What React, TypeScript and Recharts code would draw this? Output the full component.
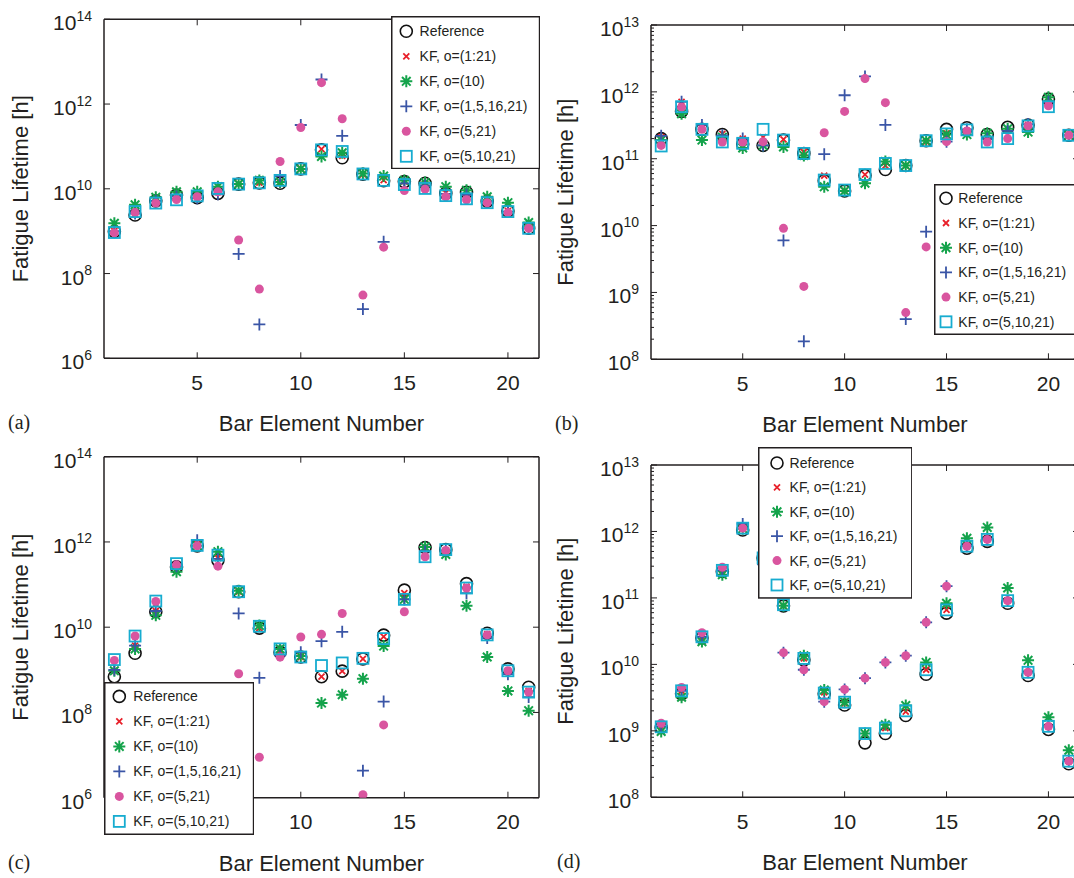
import React from "react";
import { Legend, Scatter, ScatterChart, XAxis, YAxis } from "recharts";

// bar element numbers shared by all four panels
const ELEMENTS = [1, 2, 3, 4, 5, 6, 7, 8, 9, 10, 11, 12, 13, 14, 15, 16, 17, 18, 19, 20, 21];
const SERIES_NAMES = [
  "Reference",
  "KF, o=(1:21)",
  "KF, o=(10)",
  "KF, o=(1,5,16,21)",
  "KF, o=(5,21)",
  "KF, o=(5,10,21)",
];
const X_TICKS = [5, 10, 15, 20];
const WIDE_TICKS = [1e6, 1e8, 1e10, 1e12, 1e14];
const NARROW_TICKS = [1e8, 1e9, 1e10, 1e11, 1e12, 1e13];
const MINOR_STEPS = [2, 3, 4, 5, 6, 7, 8, 9];

// (a)
const A_REFERENCE = [9.8e8, 2.4e9, 5.2e9, 7.1e9, 6.2e9, 7.8e9, 1.29e10, 1.38e10, 1.35e10, 2.95e10, 8.3e10, 5.4e10, 2.2e10, 1.55e10, 1.48e10, 1.35e10, 7.8e9, 8.3e9, 5.1e9, 3.0e9, 1.17e9];
const A_KF_ALL = [1.0e9, 2.5e9, 5.3e9, 7.2e9, 6.4e9, 8.5e9, 1.3e10, 1.4e10, 1.4e10, 3.0e10, 8.6e10, 6.0e10, 2.2e10, 1.6e10, 1.5e10, 1.3e10, 8.0e9, 8.0e9, 5.0e9, 3.0e9, 1.2e9];
const A_KF_10 = [1.53e9, 4.2e9, 6.3e9, 8.5e9, 8.5e9, 1.12e10, 1.3e10, 1.58e10, 1.45e10, 2.95e10, 5.8e10, 7.1e10, 2.3e10, 2.0e10, 1.58e10, 1.41e10, 1.12e10, 9.3e9, 6.5e9, 4.7e9, 1.6e9];
const A_KF_1_5_16_21 = [1.0e9, 2.6e9, 5.2e9, 6.6e9, 6.0e9, 7.4e9, 2.9e8, 6.3e6, 2.0e10, 3.2e11, 3.8e12, 1.78e11, 1.45e7, 5.6e8, 1.35e10, 1.2e10, 7.6e9, 7.2e9, 5.0e9, 2.9e9, 1.17e9];
const A_KF_5_21 = [9.1e8, 2.75e9, 4.6e9, 5.6e9, 6.5e9, 8.5e9, 6.2e8, 4.3e7, 4.4e10, 2.8e11, 3.2e12, 4.5e11, 3.1e7, 4.2e8, 9.1e9, 9.8e9, 6.5e9, 5.5e9, 4.7e9, 2.75e9, 1.17e9];
const A_KF_5_10_21 = [9.3e8, 2.9e9, 4.6e9, 5.5e9, 6.8e9, 1.02e10, 1.29e10, 1.38e10, 1.58e10, 2.95e10, 8.3e10, 7.6e10, 2.24e10, 1.58e10, 1.26e10, 1.02e10, 6.9e9, 5.8e9, 4.7e9, 2.9e9, 1.17e9];

// (b)
const B_REFERENCE = [2.0e11, 5.1e11, 2.75e11, 2.3e11, 1.66e11, 1.58e11, 1.9e11, 1.2e11, 4.7e10, 3.3e10, 5.6e10, 6.9e10, 7.9e10, 1.86e11, 2.75e11, 2.9e11, 2.3e11, 2.95e11, 3.2e11, 7.8e11, 2.24e11];
const B_KF_ALL = [2.1e11, 7.1e11, 2.9e11, 2.35e11, 2.0e11, 2.1e11, 1.95e11, 1.26e11, 5.6e10, 3.3e10, 5.8e10, 7.9e10, 7.9e10, 1.8e11, 2.4e11, 2.6e11, 2.0e11, 2.6e11, 3.2e11, 7.1e11, 2.24e11];
const B_KF_10 = [1.9e11, 4.7e11, 1.9e11, 2.1e11, 1.45e11, 1.58e11, 1.5e11, 1.12e11, 3.8e10, 3.3e10, 4.3e10, 9.1e10, 7.9e10, 1.86e11, 2.3e11, 2.3e11, 2.4e11, 2.8e11, 2.5e11, 8.3e11, 2.24e11];
const B_KF_1_5_16_21 = [2.2e11, 7.1e11, 3.2e11, 2.24e11, 2.0e11, 1.58e11, 6.0e9, 1.86e8, 1.17e11, 8.9e11, 1.7e12, 3.2e11, 4.0e8, 8.1e9, 1.8e11, 2.75e11, 2.0e11, 2.6e11, 3.3e11, 7.1e11, 2.24e11];
const B_KF_5_21 = [1.58e11, 5.9e11, 2.75e11, 1.78e11, 1.78e11, 1.8e11, 9.1e9, 1.23e9, 2.45e11, 5.1e11, 1.58e12, 6.9e11, 5.0e8, 4.8e9, 1.8e11, 2.6e11, 1.78e11, 2.0e11, 3.1e11, 6.2e11, 2.24e11];
const B_KF_5_10_21 = [1.55e11, 6.0e11, 2.75e11, 1.78e11, 1.7e11, 2.75e11, 1.9e11, 1.2e11, 4.8e10, 3.4e10, 5.8e10, 8.5e10, 7.9e10, 1.86e11, 2.35e11, 2.7e11, 1.78e11, 2.0e11, 3.1e11, 6.0e11, 2.24e11];

// (c)
const C_REFERENCE = [6.9e8, 2.45e9, 2.3e10, 2.6e11, 8.1e11, 3.7e11, 6.8e10, 9.5e9, 2.6e9, 2.0e9, 6.9e8, 9.3e8, 1.8e9, 6.5e9, 7.4e10, 7.4e11, 6.6e11, 1.05e11, 7.2e9, 1.05e9, 3.9e8];
const C_KF_ALL = [9.5e8, 3.7e9, 2.4e10, 2.6e11, 8.9e11, 4.2e11, 6.8e10, 9.5e9, 2.8e9, 2.0e9, 6.9e8, 9.3e8, 1.8e9, 6.0e9, 6.3e10, 7.1e11, 6.3e11, 8.9e10, 6.9e9, 9.5e8, 3.2e8];
const C_KF_10 = [9.5e8, 3.1e9, 1.9e10, 2.0e11, 8.1e11, 5.9e11, 7.2e10, 1.1e10, 3.1e9, 2.1e9, 1.66e8, 2.6e8, 6.2e8, 3.6e9, 4.5e10, 7.6e11, 5.1e11, 3.2e10, 2.0e9, 3.2e8, 1.1e8];
const C_KF_1_5_16_21 = [1.0e9, 3.7e9, 2.4e10, 2.7e11, 1.1e12, 4.0e11, 2.1e10, 6.5e8, 2.2e9, 2.6e9, 4.7e9, 7.8e9, 4.3e6, 1.8e8, 4.5e10, 6.0e11, 6.3e11, 6.3e10, 5.6e9, 7.9e8, 2.3e8];
const C_KF_5_21 = [1.66e9, 6.2e9, 4.0e10, 2.9e11, 8.1e11, 2.7e11, 8.1e8, 8.9e6, 2.0e9, 5.9e9, 6.8e9, 2.1e10, 1.17e6, 5.1e7, 2.3e10, 4.5e11, 6.3e11, 8.3e10, 6.6e9, 9.5e8, 3.0e8];
const C_KF_5_10_21 = [1.74e9, 6.2e9, 4.1e10, 3.1e11, 8.3e11, 4.9e11, 6.8e10, 1.05e10, 3.1e9, 2.0e9, 1.26e9, 1.45e9, 1.86e9, 5.4e9, 4.5e10, 4.5e11, 6.6e11, 8.3e10, 6.6e9, 9.5e8, 3.0e8];

// (d)
const D_REFERENCE = [1.12e9, 3.6e9, 2.5e10, 2.5e11, 1.05e12, 4.0e11, 7.6e10, 1.17e10, 3.6e9, 2.45e9, 6.6e8, 9.1e8, 1.7e9, 7.1e9, 5.9e10, 5.6e11, 7.1e11, 8.3e10, 6.8e9, 1.05e9, 3.2e8];
const D_KF_ALL = [1.17e9, 4.0e9, 2.6e10, 2.6e11, 1.1e12, 4.0e11, 7.6e10, 1.23e10, 3.8e9, 2.6e9, 9.1e8, 1.1e9, 1.95e9, 8.3e9, 6.6e10, 6.0e11, 7.6e11, 9.1e10, 7.6e9, 1.17e9, 3.5e8];
const D_KF_10 = [9.8e8, 3.2e9, 2.2e10, 2.24e11, 1.1e12, 4.0e11, 7.6e10, 1.35e10, 4.1e9, 2.7e9, 9.1e8, 1.23e9, 2.4e9, 1.07e10, 8.3e10, 7.9e11, 1.15e12, 1.41e11, 1.15e10, 1.6e9, 5.1e8];
const D_KF_1_5_16_21 = [1.17e9, 4.0e9, 2.6e10, 2.6e11, 1.3e12, 3.2e11, 1.5e10, 8.3e9, 2.75e9, 4.2e9, 6.2e9, 1.07e10, 1.35e10, 4.3e10, 1.5e11, 6.0e11, 7.6e11, 9.1e10, 7.6e9, 1.17e9, 3.5e8];
const D_KF_5_21 = [1.3e9, 4.5e9, 3.0e10, 2.9e11, 1.12e12, 3.2e11, 1.5e10, 8.3e9, 2.75e9, 4.2e9, 6.2e9, 1.07e10, 1.35e10, 4.3e10, 1.5e11, 6.0e11, 7.6e11, 9.1e10, 7.6e9, 1.17e9, 3.5e8];
const D_KF_5_10_21 = [1.15e9, 4.0e9, 2.6e10, 2.6e11, 1.12e12, 4.0e11, 7.9e10, 1.23e10, 3.7e9, 2.7e9, 9.1e8, 1.1e9, 2.0e9, 8.3e9, 6.6e10, 6.0e11, 7.6e11, 9.1e10, 7.6e9, 1.17e9, 3.5e8];

const INK = "#231f20";
const SANS = '"Liberation Sans", Arial, Helvetica, sans-serif';
const SERIF = '"Liberation Serif", "Times New Roman", serif';
const W = 545;
const H = 440;

type MarkKind = "circle" | "cross" | "star" | "plus" | "dot" | "square";
const KINDS: MarkKind[] = ["circle", "cross", "star", "plus", "dot", "square"];
const COLORS: Record<MarkKind, string> = {
  circle: "#111111",
  cross: "#e8202a",
  star: "#14a34b",
  plus: "#3a55a6",
  dot: "#d9559f",
  square: "#17acd0",
};

function Mark({ kind, cx, cy }: { kind: MarkKind; cx: number; cy: number }) {
  const c = COLORS[kind];
  switch (kind) {
    case "circle":
      return <circle cx={cx} cy={cy} r={6} fill="none" stroke={c} strokeWidth={1.6} />;
    case "cross":
      return (
        <path
          d={`M${cx - 3},${cy - 3}L${cx + 3},${cy + 3}M${cx - 3},${cy + 3}L${cx + 3},${cy - 3}`}
          stroke={c}
          strokeWidth={1.8}
        />
      );
    case "star":
      return (
        <path
          d={`M${cx - 6},${cy}L${cx + 6},${cy}M${cx},${cy - 6}L${cx},${cy + 6}M${cx - 4.3},${cy - 4.3}L${cx + 4.3},${cy + 4.3}M${cx - 4.3},${cy + 4.3}L${cx + 4.3},${cy - 4.3}`}
          stroke={c}
          strokeWidth={2}
        />
      );
    case "plus":
      return (
        <path
          d={`M${cx - 6},${cy}L${cx + 6},${cy}M${cx},${cy - 6}L${cx},${cy + 6}`}
          stroke={c}
          strokeWidth={1.8}
        />
      );
    case "dot":
      return <circle cx={cx} cy={cy} r={4.5} fill={c} />;
    default:
      return (
        <rect x={cx - 5.5} y={cy - 5.5} width={11} height={11} fill="none" stroke={c} strokeWidth={1.8} />
      );
  }
}

type LegendSpec = { x: number; y: number; w: number; h: number; mark: number; text: number; row0: number; gap: number };

type PanelSpec = {
  id: string;
  left: number;
  top: number;
  plot: [number, number, number, number];
  yMajor: number[];
  minor: boolean;
  series: number[][];
  legend: LegendSpec;
  labelX: number;
  yTitleX: number;
  // x tick labels that sit under the legend box in the original
  coveredXLabels?: number[];
};

function LegendBox({ lg }: { lg: LegendSpec }) {
  return (
    <svg width={lg.w} height={lg.h} style={{ display: "block" }}>
      <rect x={0.75} y={0.75} width={lg.w - 1.5} height={lg.h - 1.5} fill="#fff" stroke={INK} strokeWidth={1.5} />
      {SERIES_NAMES.map((name, i) => {
        const cy = lg.row0 + i * lg.gap;
        return (
          <g key={name}>
            <Mark kind={KINDS[i]} cx={lg.mark} cy={cy} />
            <text x={lg.text} y={cy} dominantBaseline="central" fontSize={14} fontFamily={SANS} fill={INK}>
              {name}
            </text>
          </g>
        );
      })}
    </svg>
  );
}

function Panel({ spec }: { spec: PanelSpec }) {
  const [x0, y0, x1, y1] = spec.plot;
  const minors = spec.minor
    ? spec.yMajor.slice(0, -1).flatMap(d => MINOR_STEPS.map(k => k * d))
    : [];
  const ticks = [...spec.yMajor, ...minors].sort((a, b) => a - b);
  const domain = [spec.yMajor[0], spec.yMajor[spec.yMajor.length - 1]];
  const isMajor = (v: number) => spec.yMajor.some(m => Math.abs(m - v) / m < 1e-6);
  const covered = spec.coveredXLabels ?? [];

  const bottomTick = (p: any) => (
    <g>
      <line x1={p.x} x2={p.x} y1={p.y} y2={p.y - 6} stroke={INK} strokeWidth={1} />
      {!covered.includes(p.payload.value) && (
        <text x={p.x} y={p.y + 31.5} textAnchor="middle" fontSize={21} fontFamily={SANS} fill={INK}>
          {p.payload.value}
        </text>
      )}
    </g>
  );
  const topTick = (p: any) => (
    <line x1={p.x} x2={p.x} y1={p.y} y2={p.y + 6} stroke={INK} strokeWidth={1} />
  );
  const leftTick = (p: any) => {
    const v = p.payload.value;
    if (!isMajor(v)) {
      return <line x1={p.x} x2={p.x + 3} y1={p.y} y2={p.y} stroke={INK} strokeWidth={1} />;
    }
    return (
      <g>
        <line x1={p.x} x2={p.x + 6} y1={p.y} y2={p.y} stroke={INK} strokeWidth={1} />
        <text x={p.x - 12} y={p.y + 11} textAnchor="end" fontSize={21} fontFamily={SANS} fill={INK}>
          10
          <tspan dy={-9.5} fontSize={14}>
            {Math.round(Math.log10(v))}
          </tspan>
        </text>
      </g>
    );
  };
  const rightTick = (p: any) => {
    const len = isMajor(p.payload.value) ? 6 : 3;
    return <line x1={p.x} x2={p.x - len} y1={p.y} y2={p.y} stroke={INK} strokeWidth={1} />;
  };

  const axisLine = { stroke: INK, strokeWidth: 1.5 };
  const lg = spec.legend;
  const midX = (x0 + x1) / 2;
  const midY = (y0 + y1) / 2;

  // axes take 1px each; margins place the plot area exactly on [x0,x1]x[y0,y1]
  return (
    <div style={{ position: "absolute", left: spec.left, top: spec.top, width: W, height: H }}>
      <ScatterChart
        width={W}
        height={H}
        margin={{ top: y0 - 1, left: x0 - 1, right: W - x1 - 1, bottom: H - y1 - 1 }}
      >
        <XAxis
          xAxisId="bottom"
          orientation="bottom"
          dataKey="x"
          type="number"
          domain={[0.5, 21.5]}
          ticks={X_TICKS}
          interval={0}
          allowDataOverflow
          height={1}
          tickSize={0}
          tickMargin={0}
          tickLine={false}
          axisLine={axisLine}
          tick={bottomTick}
        />
        <XAxis
          xAxisId="top"
          orientation="top"
          dataKey="x"
          type="number"
          domain={[0.5, 21.5]}
          ticks={X_TICKS}
          interval={0}
          allowDataOverflow
          height={1}
          tickSize={0}
          tickMargin={0}
          tickLine={false}
          axisLine={axisLine}
          tick={topTick}
        />
        <YAxis
          yAxisId="left"
          orientation="left"
          dataKey="y"
          type="number"
          scale="log"
          domain={domain}
          ticks={ticks}
          interval={0}
          allowDataOverflow
          width={1}
          tickSize={0}
          tickMargin={0}
          tickLine={false}
          axisLine={axisLine}
          tick={leftTick}
        />
        <YAxis
          yAxisId="right"
          orientation="right"
          dataKey="y"
          type="number"
          scale="log"
          domain={domain}
          ticks={ticks}
          interval={0}
          allowDataOverflow
          width={1}
          tickSize={0}
          tickMargin={0}
          tickLine={false}
          axisLine={axisLine}
          tick={rightTick}
        />
        {spec.series.map((values, i) => (
          <Scatter
            key={SERIES_NAMES[i]}
            name={SERIES_NAMES[i]}
            xAxisId="bottom"
            yAxisId="left"
            data={ELEMENTS.map((x, j) => ({ x, y: values[j] }))}
            shape={(p: any) => <Mark kind={KINDS[i]} cx={p.cx} cy={p.cy} />}
            isAnimationActive={false}
          />
        ))}
        {spec.series.map((values, i) => (
          <Scatter
            key={"r" + SERIES_NAMES[i]}
            xAxisId="top"
            yAxisId="right"
            data={ELEMENTS.map((x, j) => ({ x, y: values[j] }))}
            shape={() => <g />}
            legendType="none"
            isAnimationActive={false}
          />
        ))}
        <Legend
          layout="horizontal"
          verticalAlign="middle"
          align="center"
          content={() => <LegendBox lg={lg} />}
          wrapperStyle={{ position: "absolute", left: lg.x, top: lg.y, width: lg.w, height: lg.h }}
        />
      </ScatterChart>
      <svg width={W} height={H} style={{ position: "absolute", left: 0, top: 0, pointerEvents: "none" }}>
        <text
          transform={`translate(${spec.yTitleX},${midY}) rotate(-90)`}
          textAnchor="middle"
          fontSize={22}
          fontFamily={SANS}
          fill={INK}
        >
          Fatigue Lifetime [h]
        </text>
        <text x={midX} y={y1 + 73} textAnchor="middle" fontSize={22} fontFamily={SANS} fill={INK}>
          Bar Element Number
        </text>
        <text x={spec.labelX} y={y1 + 71} fontSize={20} fontFamily={SERIF} fill={INK}>
          {spec.id}
        </text>
      </svg>
    </div>
  );
}

const PANELS: PanelSpec[] = [
  {
    id: "(a)",
    left: 0,
    top: 0,
    plot: [104, 19.3, 539, 358.3],
    yMajor: WIDE_TICKS,
    minor: false,
    series: [A_REFERENCE, A_KF_ALL, A_KF_10, A_KF_1_5_16_21, A_KF_5_21, A_KF_5_10_21],
    legend: { x: 390.7, y: 15.7, w: 149.3, h: 153.3, mark: 15.3, text: 28.6, row0: 15.3, gap: 25 },
    labelX: 8,
    yTitleX: 28,
  },
  {
    id: "(b)",
    left: 545,
    top: 0,
    plot: [106, 25, 534, 359.3],
    yMajor: NARROW_TICKS,
    minor: true,
    series: [B_REFERENCE, B_KF_ALL, B_KF_10, B_KF_1_5_16_21, B_KF_5_21, B_KF_5_10_21],
    legend: { x: 389, y: 184, w: 146, h: 151, mark: 12, text: 24.3, row0: 14.3, gap: 24.7 },
    labelX: 10,
    yTitleX: 28,
  },
  {
    id: "(c)",
    left: 0,
    top: 440,
    plot: [104, 16.7, 539, 357.7],
    yMajor: WIDE_TICKS,
    minor: false,
    series: [C_REFERENCE, C_KF_ALL, C_KF_10, C_KF_1_5_16_21, C_KF_5_21, C_KF_5_10_21],
    legend: { x: 104, y: 242.3, w: 150.3, h: 153, mark: 15.3, text: 29.3, row0: 14.4, gap: 25 },
    labelX: 8,
    yTitleX: 28,
    coveredXLabels: [5],
  },
  {
    id: "(d)",
    left: 545,
    top: 440,
    plot: [106, 25, 534, 357.3],
    yMajor: NARROW_TICKS,
    minor: true,
    series: [D_REFERENCE, D_KF_ALL, D_KF_10, D_KF_1_5_16_21, D_KF_5_21, D_KF_5_10_21],
    legend: { x: 212.7, y: 7.3, w: 154.6, h: 151.7, mark: 19, text: 31.6, row0: 16, gap: 24.4 },
    labelX: 12,
    yTitleX: 28,
  },
];

export default function App() {
  return (
    <div
      style={{
        position: "absolute",
        left: 0,
        top: 0,
        width: 1074,
        height: 878,
        overflow: "hidden",
        background: "#fff",
      }}
    >
      {PANELS.map(p => (
        <Panel key={p.id} spec={p} />
      ))}
    </div>
  );
}
